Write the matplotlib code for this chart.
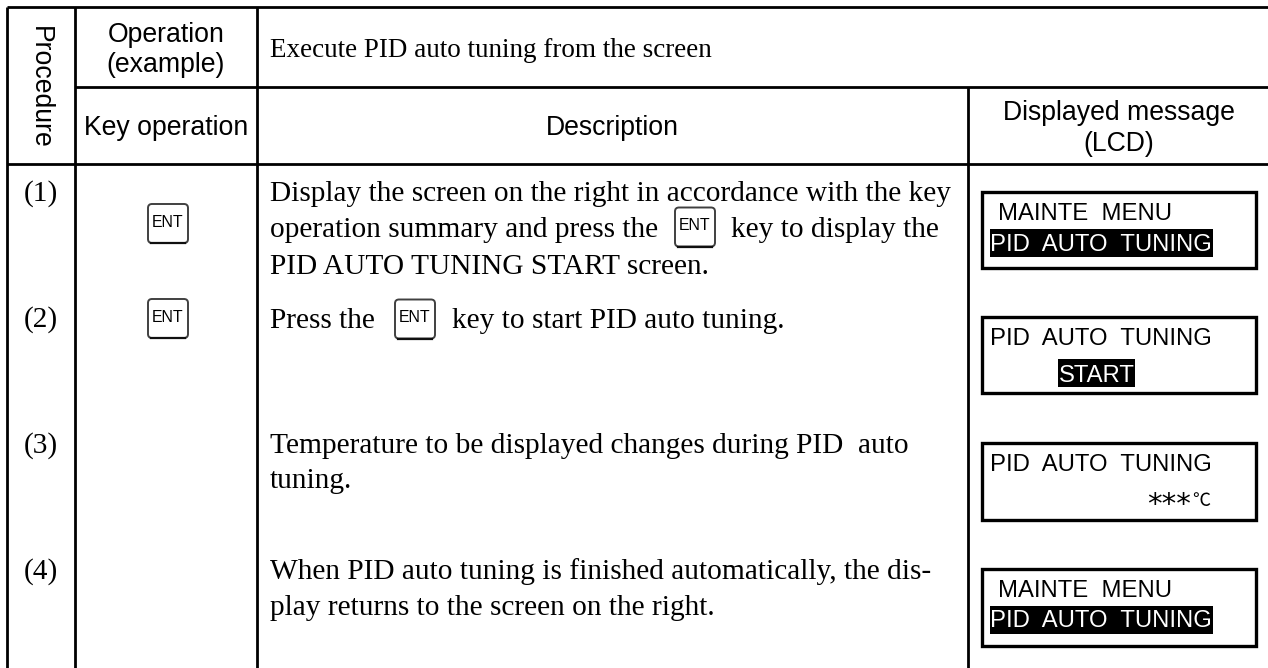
import matplotlib
matplotlib.use("Agg")
import matplotlib.pyplot as plt
from matplotlib.patches import FancyBboxPatch, Rectangle

W, H = 1268, 668
SANS = "Liberation Sans"
SERIF = "Liberation Serif"

# ---- table text ----
step_labels = ["(1)", "(2)", "(3)", "(4)"]
step_baseline = [201, 327, 453, 579]
description_lines = [
    (270, 201, "Display the screen on the right in accordance with the key"),
    (270, 237, "operation summary and press the"),
    (731, 237, "key to display the"),
    (270, 274, "PID AUTO TUNING START screen."),
    (270, 328, "Press the"),
    (452, 328, "key to start PID auto tuning."),
    (270, 453, "Temperature to be displayed changes during PID  auto"),
    (270, 488, "tuning."),
    (270, 579, "When PID auto tuning is finished automatically, the dis-"),
    (270, 615, "play returns to the screen on the right."),
]
# key symbols: x centre, y centre
key_centres = [(168, 223.5), (168, 318.5), (695, 227), (415, 319)]

# LCD boxes
lcd_top = [192, 317, 443, 569]
lcd_bottom = [268, 393, 520, 646]
menu_title = "MAINTE  MENU"
tuning_label = "PID  AUTO  TUNING"
start_label = "START"
stars_label = "***"
degree_label = "℃"

# ---- layout ----
fig = plt.figure(figsize=(W / 100, H / 100), dpi=100)
ax = fig.add_axes([0, 0, 1, 1])
ax.set_xlim(0, W)
ax.set_ylim(H, 0)
ax.axis("off")

LW = 2.0


def hline(y, x0=7, x1=W):
    ax.plot([x0, x1], [y, y], color="black", lw=LW, solid_capstyle="butt")


def vline(x, y0=7, y1=H):
    ax.plot([x, x], [y0, y1], color="black", lw=LW, solid_capstyle="butt")


hline(7)
hline(87, 75)
hline(164)
vline(7)
vline(75)
vline(257)
vline(968, 87)


def sans(x, y, s, size=19.2, ha="center", color="black"):
    ax.text(x, y, s, family=SANS, fontsize=size, ha=ha, va="baseline", color=color)


def serif(x, y, s, size=21.2, ha="left"):
    ax.text(x, y, s, family=SERIF, fontsize=size, ha=ha, va="baseline", color="black")


# ---- headers ----
ax.text(40, 87, "Procedure", family=SANS, fontsize=19.2, rotation=-90,
        ha="center", va="center")
sans(166, 42, "Operation")
sans(166, 72, "(example)")
sans(166, 135, "Key operation")
serif(270, 57, "Execute PID auto tuning from the screen", size=19.5)
sans(612, 135, "Description")
sans(1119, 120, "Displayed message")
sans(1119, 151, "(LCD)")

# ---- steps ----
for label, y in zip(step_labels, step_baseline):
    serif(41, y, label, ha="center")

for x, y, s in description_lines:
    serif(x, y, s)


def ent_key(cx, cy, w=40, h=39, size=11.4):
    ax.add_patch(FancyBboxPatch((cx - w / 2, cy - h / 2), w, h,
                                boxstyle="round,pad=0,rounding_size=4",
                                fc="white", ec="#404040", lw=1.4))
    ax.plot([cx - w / 2 + 3, cx + w / 2 - 3], [cy + h / 2, cy + h / 2],
            color="#101010", lw=1.6)
    ax.text(cx, cy - 1, "ENT", family=SANS, fontsize=size, ha="center",
            va="center", color="black")


for cx, cy in key_centres:
    ent_key(cx, cy)

# ---- LCD screens ----
for top, bottom in zip(lcd_top, lcd_bottom):
    ax.add_patch(Rectangle((982, top), 274, bottom - top, fc="white", ec="black", lw=2.4))


def highlight(x0, x1, y0, y1):
    ax.add_patch(Rectangle((x0, y0), x1 - x0, y1 - y0, fc="black", ec="none"))


LCD = 17.2
# screen 1
sans(998, 220, menu_title, size=LCD, ha="left")
highlight(990, 1213, 229, 257)
sans(990.5, 251, tuning_label, size=LCD, ha="left", color="white")
# screen 2
sans(990.5, 345, tuning_label, size=LCD, ha="left")
highlight(1058, 1135, 359, 387)
sans(1058.5, 382, start_label, size=LCD, ha="left", color="white")
# screen 3
sans(990.5, 471, tuning_label, size=LCD, ha="left")
ax.text(1147, 513, stars_label, family="DejaVu Sans", fontsize=21, ha="left", va="baseline")
ax.text(1192, 506, degree_label, family=["Noto Sans CJK JP", "DejaVu Sans"], fontsize=13,
        ha="left", va="baseline")
# screen 4
sans(998, 597, menu_title, size=LCD, ha="left")
highlight(990, 1213, 606, 634)
sans(990.5, 627, tuning_label, size=LCD, ha="left", color="white")

fig.savefig("out.png", dpi=100)
